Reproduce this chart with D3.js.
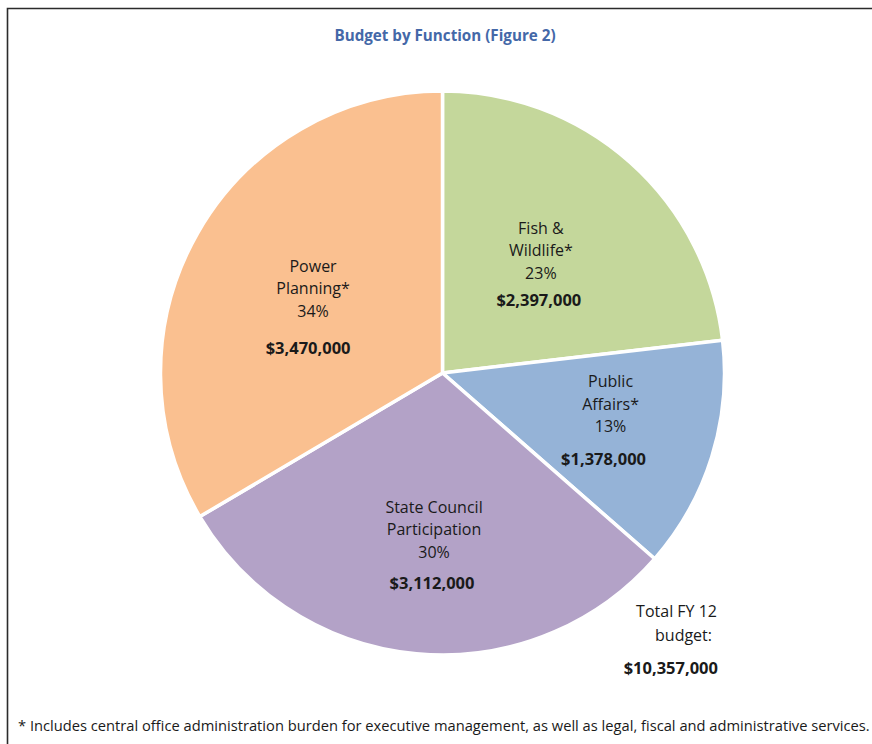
<!DOCTYPE html>
<html>
<head>
<meta charset="utf-8">
<script src="https://cdn.jsdelivr.net/npm/d3@7"></script>
<style>
  html, body { margin: 0; padding: 0; background: #fff; }
  svg { display: block; }
</style>
</head>
<body>
<script>
// ---- Data ----
const categories = ["Fish &\nWildlife*", "Public\nAffairs*", "State Council\nParticipation", "Power\nPlanning*"];
const values = [2397000, 1378000, 3112000, 3470000];
const percentLabels = ["23%", "13%", "30%", "34%"];
const colors = ["#c4d79b", "#95b3d7", "#b3a2c7", "#fac090"];
const titleText = "Budget by Function (Figure 2)";
const totalLines = ["Total FY 12", "budget:"];
const totalValue = 10357000;
const footnote = "* Includes central office administration burden for executive management, as well as legal, fiscal and administrative services.";

// ---- Layout ----
const W = 872, H = 744;
const cx = 442.5, cy = 373, R = 282;
const labelR = [148, 176, 173, 149];
const labelDx = [0, 0, 7.5, 0];
const labelDy = [1.6, -4.5, 0, 8];
const valGap = [27, 33, 31, 37];
const valDx = [-2, -7, -2, -5];
const FONT = "'Open Sans', Lato, sans-serif";
const fmt = d3.format("$,");

const svg = d3.select("body").append("svg").attr("width", W).attr("height", H);

// border
svg.append("path")
  .attr("d", `M7.5,${H} L7.5,8.5 L${W},8.5`)
  .attr("fill", "none").attr("stroke", "#2b2b2b").attr("stroke-width", 1.6);

// title
svg.append("text")
  .attr("x", 445).attr("y", 41)
  .attr("text-anchor", "middle")
  .attr("font-family", FONT).attr("font-weight", "bold").attr("font-size", 15.2)
  .attr("fill", "#4468a8")
  .text(titleText);

const pie = d3.pie().sort(null).value(d => d)(values);
const arc = d3.arc().innerRadius(0).outerRadius(R);

const g = svg.append("g").attr("transform", `translate(${cx},${cy})`);
g.selectAll("path.slice").data(pie).join("path")
  .attr("class", "slice")
  .attr("d", arc)
  .attr("fill", (d, i) => colors[i])
  .attr("stroke", "#fff").attr("stroke-width", 3.5).attr("stroke-linejoin", "round");

// labels
pie.forEach((d, i) => {
  const la = d3.arc().innerRadius(labelR[i]).outerRadius(labelR[i]);
  let [lx, ly] = la.centroid(d);
  lx += labelDx[i]; ly += labelDy[i];
  const lines = categories[i].split("\n");
  const lh = 22.5;
  const total = lines.length * lh + valGap[i];
  const top = ly - total / 2;
  const t = g.append("g").attr("font-family", FONT).attr("font-size", 16).attr("fill", "#1a1a1a").attr("text-anchor", "middle");
  lines.forEach((ln, k) => {
    t.append("text").attr("x", lx).attr("y", top + k * lh + 5.5).text(ln);
  });
  t.append("text").attr("x", lx).attr("y", top + lines.length * lh + 5.5).text(percentLabels[i]);
  t.append("text").attr("x", lx + valDx[i]).attr("y", top + lines.length * lh + valGap[i] + 5.5)
    .attr("font-weight", "bold").attr("font-size", 16.5).text(fmt(values[i]));
});

// total label
const tg = svg.append("g").attr("font-family", FONT).attr("font-size", 16).attr("fill", "#1a1a1a").attr("text-anchor", "end");
tg.append("text").attr("x", 717).attr("y", 617).text(totalLines[0]);
tg.append("text").attr("x", 712).attr("y", 641).text(totalLines[1]);
tg.append("text").attr("x", 718).attr("y", 674).attr("font-weight", "bold").attr("font-size", 16.5).text(fmt(totalValue));

// footnote
svg.append("text")
  .attr("x", 18).attr("y", 731)
  .attr("font-family", FONT).attr("font-size", 14.7).attr("fill", "#1a1a1a")
  .text(footnote);
</script>
</body>
</html>
